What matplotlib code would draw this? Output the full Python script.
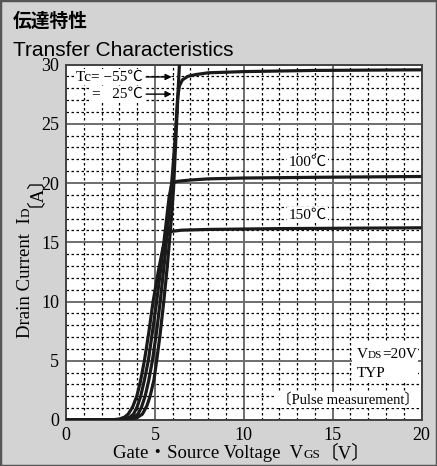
import matplotlib
matplotlib.use("Agg")
import matplotlib.pyplot as plt
from matplotlib.ticker import MultipleLocator
from matplotlib.patches import Rectangle

# ---------------- data ----------------
temps = ["-55", "25", "100", "150"]

v_m55 = [0, 3.0, 3.6, 4.0, 4.3, 4.55, 4.73, 4.95, 5.1, 5.3, 5.5, 5.7, 5.9, 6.05, 6.22, 6.38, 6.45]
i_m55 = [0, 0.02, 0.06, 0.2, 0.5, 1.2, 2.0, 3.4, 5.0, 7.3, 10.0, 13.0, 16.5, 19.5, 25.0, 30.0, 32.0]

v_25 = [0, 3.0, 3.5, 3.8, 4.05, 4.25, 4.45, 4.65, 4.86, 5.1, 5.3, 5.55, 5.8, 6.0, 6.15, 6.28, 6.38, 6.55, 6.85, 7.3, 8.0, 10, 14, 20]
i_25 = [0, 0.02, 0.08, 0.22, 0.5, 1.1, 2.0, 3.3, 5.0, 7.5, 10, 13.5, 17.5, 21.0, 24.0, 27.2, 28.2, 28.7, 29.0, 29.15, 29.3, 29.4, 29.5, 29.55]

v_100 = [0, 2.8, 3.3, 3.6, 3.8, 4.0, 4.2, 4.4, 4.63, 4.85, 5.1, 5.35, 5.6, 5.8, 5.93, 6.05, 6.3, 7.0, 8.0, 10, 14, 20]
i_100 = [0, 0.02, 0.08, 0.25, 0.5, 1.1, 2.0, 3.3, 5.0, 7.3, 10, 13, 16.2, 18.8, 19.8, 20.05, 20.15, 20.25, 20.35, 20.42, 20.48, 20.55]

v_150 = [0, 2.6, 3.0, 3.3, 3.5, 3.75, 3.98, 4.18, 4.41, 4.65, 4.9, 5.2, 5.45, 5.62, 5.75, 5.95, 6.5, 8, 12, 20]
i_150 = [0, 0.02, 0.08, 0.25, 0.5, 1.1, 2.0, 3.2, 5.0, 7.3, 10, 12.6, 14.5, 15.4, 15.75, 15.92, 16.02, 16.08, 16.15, 16.22]

x_ticks = [0, 5, 10, 15, 20]
y_ticks = [0, 5, 10, 15, 20, 25, 30]

SERIF = ["Liberation Serif", "Noto Sans CJK JP", "DejaVu Serif"]
SANS = ["Liberation Sans", "DejaVu Sans"]
CJK = ["Noto Sans CJK JP", "DejaVu Sans"]

W, H = 437, 466
fig = plt.figure(figsize=(W / 100, H / 100), dpi=100)
bg = "#d3d3d3"
fig.patch.set_facecolor(bg)
fig.patches.append(Rectangle((0, 0), 1, 1, transform=fig.transFigure, fill=False,
                             ec="#555555", lw=2.5, zorder=10))

L, R, T, B = 66, 421.5, 64.5, 420
ax = fig.add_axes([L / W, 1 - B / H, (R - L) / W, (B - T) / H])
ax.set_facecolor("white")
ax.set_xlim(0, 20)
ax.set_ylim(0, 30)
ax.set_xticks(x_ticks)
ax.set_yticks(y_ticks)
ax.xaxis.set_minor_locator(MultipleLocator(1))
ax.yaxis.set_minor_locator(MultipleLocator(1))
ax.grid(which="minor", color="black", linestyle=(0, (2, 2)), linewidth=0.9)
ax.grid(which="major", color="#6e6e6e", linestyle="-", linewidth=1.4)
ax.tick_params(which="both", length=0, labelsize=13, pad=5)
for lab in ax.get_xticklabels() + ax.get_yticklabels():
    lab.set_family(SERIF)
for s in ax.spines.values():
    s.set_color("#444444")
    s.set_linewidth(1.4)
ax.set_axisbelow(True)

for v, i in [(v_m55, i_m55), (v_25, i_25), (v_100, i_100), (v_150, i_150)]:
    ax.plot(v, i, color="#1a1a1a", lw=2.3, solid_capstyle="butt", clip_on=True, zorder=3)

wbox = dict(fc="white", ec="none", pad=1.0)
ax.text(4.3, 28.95, "Tc= −55℃", family=SERIF, fontsize=11, ha="right", va="center", bbox=wbox, zorder=4)
ax.text(4.3, 27.5, "=   25℃", family=SERIF, fontsize=11, ha="right", va="center", bbox=wbox, zorder=4)
for yy in (28.95, 27.5):
    ax.annotate("", xy=(6.1, yy), xytext=(4.35, yy),
                arrowprops=dict(arrowstyle="-|>", color="black", lw=1.0, mutation_scale=9), zorder=4)
ax.text(13.6, 21.7, "100℃", family=SERIF, fontsize=11, ha="center", va="center", bbox=wbox, zorder=4)
ax.text(13.6, 17.3, "150℃", family=SERIF, fontsize=11, ha="center", va="center", bbox=wbox, zorder=4)
ax.text(15.87, 1.7, "〔Pulse measurement〕", family=SERIF, fontsize=10.5, ha="center", va="center",
        bbox=dict(fc="white", ec="none", pad=0.5), zorder=4)

renderer = fig.canvas.get_renderer()

def measure(s, size, fam):
    t = fig.text(0, 0, s, fontsize=size, family=fam)
    w = t.get_window_extent(renderer).width
    t.remove()
    return w

def seq_text(x0, y0, pieces, rotation=0, center=False):
    """pieces: (text, size, family); x0,y0 pixel coords (top-left origin) of baseline start
    (or of the baseline centre if center=True)."""
    widths = [measure(s, size, fam) for s, size, fam in pieces]
    total = sum(widths)
    x, y = x0, y0
    if center:
        if rotation == 90:
            y += total / 2
        else:
            x -= total / 2
    for (s, size, fam), w in zip(pieces, widths):
        fig.text(x / W, 1 - y / H, s, fontsize=size, family=fam, rotation=rotation,
                 rotation_mode="anchor", ha="left", va="baseline", zorder=5)
        if rotation == 90:
            y -= w
        else:
            x += w

# VDS / TYP labels (with white background)
ax.add_patch(Rectangle((16.1, 3.3), 3.7, 3.2, fc="white", ec="none", zorder=3.5))
seq_text(357, 358, [("V", 11, SERIF), ("DS", 8, SERIF), ("=20V", 11, SERIF)])
fig.text(357 / W, 1 - 377 / H, "TYP", fontsize=11, family=SERIF, ha="left", va="baseline")

# axis labels
seq_text(242, 458, [("Gate・Source Voltage  V", 13.5, SERIF), ("GS", 9.5, SERIF), ("〔V〕", 13.5, SERIF)],
         center=True)
seq_text(30, 247, [("Drain Current  I", 13.5, SERIF), ("D", 9.5, SERIF), ("〔A〕", 13.5, SERIF)],
         rotation=90, center=True)

# titles
fig.text(13 / W, 1 - 27 / H, "伝達特性", fontsize=13.5, family=CJK, weight="bold", ha="left", va="baseline")
fig.text(13 / W, 1 - 55.5 / H, "Transfer Characteristics", fontsize=15, family=SANS, ha="left", va="baseline")

fig.savefig("out.png", dpi=100, facecolor=bg)
